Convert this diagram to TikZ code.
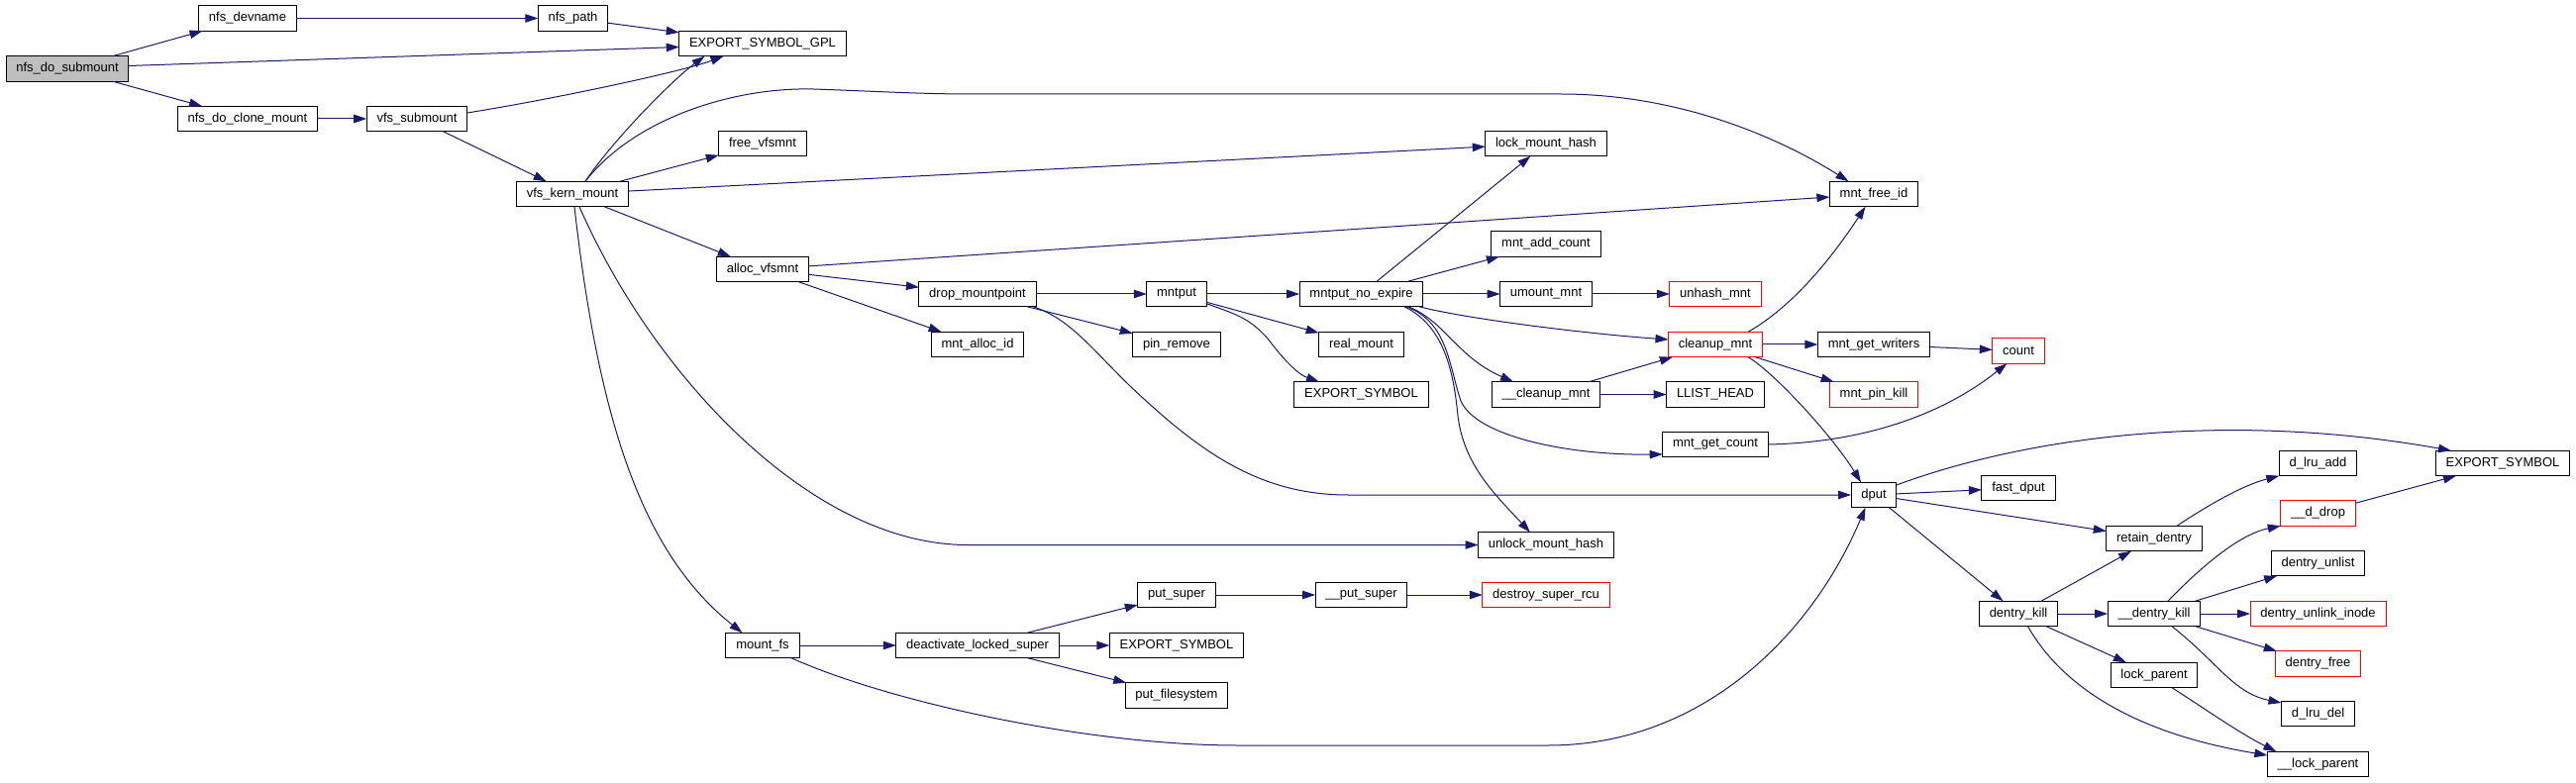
\documentclass[tikz,border=0pt]{standalone}
\usepackage{fontspec}
\setmainfont{Liberation Sans}
\usetikzlibrary{arrows.meta,calc}
\definecolor{midnight}{HTML}{191970}
\definecolor{rootgrey}{HTML}{BFBFBF}
\newcommand\dxfont{\fontsize{13}{15}\selectfont}
\begin{document}
\begin{tikzpicture}[x=1pt,y=-1pt,
  fn/.style={draw=black, line width=1pt, rectangle, inner xsep=10.3pt, inner ysep=0pt,
             minimum height=25.5pt, outer sep=0pt, font=\dxfont, fill=white},
  rfn/.style={fn, draw=red},
  rootfn/.style={fn, fill=rootgrey},
  edge/.style={draw=midnight, line width=1pt, -{Triangle[length=13pt,width=8.5pt]}}]
\useasboundingbox (0,0) rectangle (2601,791);
\fill[white] (0,0) rectangle (2601,791);

% nodes
\node[rootfn] (nds) at (68,69.5) {nfs\_do\_submount};
\node[fn] (ndn) at (250,18.5) {nfs\_devname};
\node[fn] (npa) at (578.5,18.5) {nfs\_path};
\node[fn] (ndc) at (250,120) {nfs\_do\_clone\_mount};
\node[fn] (vsm) at (421,120) {vfs\_submount};
\node[fn] (vkm) at (578,196) {vfs\_kern\_mount};
\node[fn] (esg) at (770,44) {EXPORT\_SYMBOL\_GPL};
\node[fn] (fvm) at (770,145) {free\_vfsmnt};
\node[fn] (avm) at (770,272) {alloc\_vfsmnt};
\node[fn] (mfs) at (770,652) {mount\_fs};
\node[fn] (dmp) at (987,297) {drop\_mountpoint};
\node[fn] (mai) at (987,348) {mnt\_alloc\_id};
\node[fn] (dls) at (987,652) {deactivate\_locked\_super};
\node[fn] (mnp) at (1188,297) {mntput};
\node[fn] (pre) at (1188,348) {pin\_remove};
\node[fn] (psu) at (1188,601) {put\_super};
\node[fn] (esb) at (1188,652) {EXPORT\_SYMBOL};
\node[fn] (pfs) at (1188,702.5) {put\_filesystem};
\node[fn] (mne) at (1374.5,297) {mntput\_no\_expire};
\node[fn] (rmt) at (1374.5,348) {real\_mount};
\node[fn] (esa) at (1374.5,398.5) {EXPORT\_SYMBOL};
\node[fn] (pps) at (1374.5,601) {\_\_put\_super};
\node[fn] (lmh) at (1561,145) {lock\_mount\_hash};
\node[fn] (mac) at (1561,246.5) {mnt\_add\_count};
\node[fn] (umm) at (1561,297) {umount\_mnt};
\node[fn] (ccm) at (1561,398.5) {\_\_cleanup\_mnt};
\node[fn] (umh) at (1561,550.5) {unlock\_mount\_hash};
\node[rfn] (dsr) at (1561,601) {destroy\_super\_rcu};
\node[rfn] (uhm) at (1732,297) {unhash\_mnt};
\node[rfn] (clm) at (1732,348) {cleanup\_mnt};
\node[fn] (llh) at (1732,398.5) {LLIST\_HEAD};
\node[fn] (mgc) at (1732,449) {mnt\_get\_count};
\node[fn] (mfi) at (1892,196) {mnt\_free\_id};
\node[fn] (mgw) at (1892,348) {mnt\_get\_writers};
\node[rfn] (mpk) at (1892,398.5) {mnt\_pin\_kill};
\node[fn] (dpu) at (1892,500) {dput};
\node[rfn] (cnt) at (2038,354.5) {count};
\node[fn] (fdp) at (2038,493) {fast\_dput};
\node[fn] (dkl) at (2038,620) {dentry\_kill};
\node[fn] (rtd) at (2175,544) {retain\_dentry};
\node[fn] (dk2) at (2175,620) {\_\_dentry\_kill};
\node[fn] (lpa) at (2175,682) {lock\_parent};
\node[fn] (dla) at (2340.5,468) {d\_lru\_add};
\node[rfn] (ddr) at (2340.5,518.5) {\_\_d\_drop};
\node[fn] (dul) at (2340.5,569) {dentry\_unlist};
\node[rfn] (dui) at (2340.5,620) {dentry\_unlink\_inode};
\node[rfn] (dfr) at (2340.5,670.5) {dentry\_free};
\node[fn] (dld) at (2340.5,721) {d\_lru\_del};
\node[fn] (lp2) at (2340.5,772) {\_\_lock\_parent};
\node[fn] (esc) at (2527,468) {EXPORT\_SYMBOL};

% edges
\draw[edge] (nds) -- (ndn);
\draw[edge] ($(nds.east)+(0,-3)$) -- ($(esg.west)+(0,3.5)$);
\draw[edge] (nds) -- (ndc);
\draw[edge] (ndn) -- (npa);
\draw[edge] (npa) -- (esg);
\draw[edge] (ndc) -- (vsm);
\draw[edge] ($(vsm.east)+(0,-6)$) .. controls (560,100) and (690,72) .. ($(esg.south)+(-39.5,0)$);
\draw[edge] (vsm) -- (vkm);
\draw[edge] ($(vkm.north)+(13,0)$) .. controls (620,140) and (680,80) .. ($(esg.south)+(-58.5,0)$);
\draw[edge] ($(vkm.north)+(13,0)$) .. controls (640,120) and (740,88) .. (821,90)
   .. controls (880,92) and (930,95) .. (980,95) -- (1576,95)
   .. controls (1690,95) and (1790,135) .. ($(mfi.north)+(-25.5,0)$);
\draw[edge] (vkm) -- (fvm);
\draw[edge] (vkm) -- (lmh);
\draw[edge] (vkm) -- (avm);
\draw[edge] ($(vkm.south)+(7,0)$) .. controls (660,380) and (820,550.5) .. (977,550.5) -- (umh.west);
\draw[edge] ($(vkm.south)+(2,0)$) .. controls (605,430) and (650,560) .. ($(mfs.north)+(-20.5,0)$);
\draw[edge] (avm) -- (mfi);
\draw[edge] (avm) -- (dmp);
\draw[edge] (avm) -- (mai);
\draw[edge] (dmp) -- (mnp);
\draw[edge] (dmp) -- (pre);
\draw[edge] ($(dmp.south east)+(-3,0)$) .. controls (1080,322) and (1100,350) .. (1141,390)
   .. controls (1210,455) and (1270,500) .. (1361,500) -- (dpu.west);
\draw[edge] (mnp) -- (mne);
\draw[edge] (mnp) -- (rmt);
\draw[edge] ($(mnp.south east)+(0,-3)$) .. controls (1250,318) and (1262,322) .. (1280,342)
   .. controls (1295,362) and (1310,378) .. ($(esa.north)+(-42.5,0)$);
\draw[edge] (mne) -- (lmh);
\draw[edge] (mne) -- (mac);
\draw[edge] (mne) -- (umm);
\draw[edge] ($(mne.south east)+(-4,0)$) .. controls (1480,322) and (1600,337) .. ($(clm.west)+(0,-5)$);
\draw[edge] ($(mne.south east)+(-15,0)$) .. controls (1460,325) and (1470,360) .. ($(ccm.north)+(-33,0)$);
\draw[edge] ($(mne.south east)+(-19,0)$) .. controls (1460,330) and (1468,380) .. (1472,420)
   .. controls (1478,470) and (1510,500) .. ($(umh.north)+(-16,0)$);
\draw[edge] ($(mne.south east)+(-17,0)$) .. controls (1462,325) and (1463,370) .. (1475,405)
   .. controls (1490,440) and (1580,460) .. ($(mgc.west)+(0,10)$);
\draw[edge] (umm) -- (uhm);
\draw[edge] ($(clm.north)+(33,0)$) .. controls (1810,310) and (1850,260) .. ($(mfi.south)+(-8.5,0)$);
\draw[edge] (clm) -- (mgw);
\draw[edge] (clm) -- (mpk);
\draw[edge] ($(clm.south)+(33,0)$) .. controls (1790,375) and (1850,440) .. ($(dpu.north)+(-13,0)$);
\draw[edge] (ccm) -- (clm);
\draw[edge] (ccm) -- (llh);
\draw[edge] (mgw) -- (cnt);
\draw[edge] (mgc.east) .. controls (1880,447) and (1960,420) .. ($(cnt.south)+(-11.6,0)$);
\draw[edge] (mfs) -- (dls);
\draw[edge] ($(mfs.south east)+(-8,0)$) .. controls (900,710) and (1100,753) .. (1250,753) -- (1563,753)
   .. controls (1720,753) and (1830,640) .. ($(dpu.south)+(-8.5,0)$);
\draw[edge] (dls) -- (psu);
\draw[edge] (dls) -- (esb);
\draw[edge] (dls) -- (pfs);
\draw[edge] (psu) -- (pps);
\draw[edge] (pps) -- (dsr);
\draw[edge] ($(dpu.east)+(0,-10)$) .. controls (2050,440) and (2250,415) .. ($(esc.north)+(-52,0)$);
\draw[edge] (dpu) -- (fdp);
\draw[edge] (dpu) -- (rtd);
\draw[edge] (dpu) -- (dkl);
\draw[edge] ($(rtd.north)+(23,0)$) .. controls (2230,510) and (2265,490) .. (dla.south west);
\draw[edge] (dkl) -- (rtd);
\draw[edge] (dkl) -- (dk2);
\draw[edge] (dkl) -- (lpa);
\draw[edge] ($(dkl.south)+(9.5,0)$) .. controls (2080,690) and (2150,740) .. ($(lp2.west)+(0,-9)$);
\draw[edge] ($(lpa.south)+(18,0)$) .. controls (2225,715) and (2260,740) .. ($(lp2.north west)+(9,0)$);
\draw[edge] ($(dk2.north)+(14,0)$) .. controls (2220,575) and (2260,540) .. (ddr.south west);
\draw[edge] (dk2) -- (dul);
\draw[edge] (dk2) -- (dui);
\draw[edge] (dk2) -- (dfr);
\draw[edge] ($(dk2.south)+(18,0)$) .. controls (2240,670) and (2255,700) .. ($(dld.west)+(0,-11)$);
\draw[edge] (ddr) -- (esc);
\end{tikzpicture}
\end{document}
